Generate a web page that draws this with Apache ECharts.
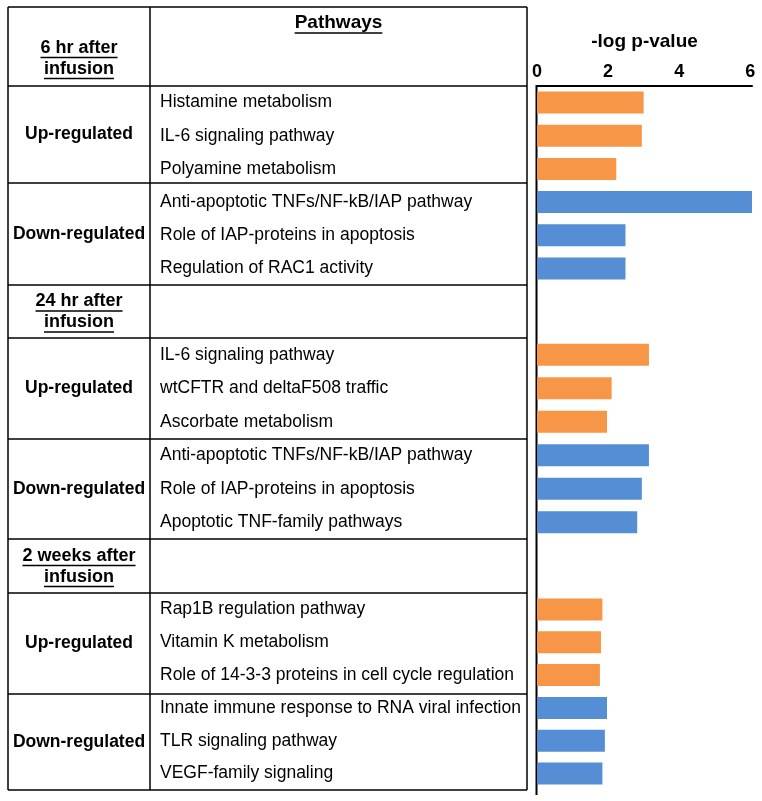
<!DOCTYPE html>
<html>
<head>
<meta charset="utf-8">
<script src="https://cdn.jsdelivr.net/npm/echarts@6/dist/echarts.min.js"></script>
<style>html,body{margin:0;padding:0;background:#fff}#c{width:762px;height:801px}</style>
</head>
<body>
<div id="c"></div>
<script>
// ---- data ----
const timeHeaders = [['6 hr after', 'infusion'], ['24 hr after', 'infusion'], ['2 weeks after', 'infusion']];
const directionLabels = ['Up-regulated', 'Down-regulated'];
const pathwaysTitle = 'Pathways';
const axisTitle = '-log p-value';
const axisTicks = [0, 2, 4, 6];

const up6hNames = ['Histamine metabolism', 'IL-6 signaling pathway', 'Polyamine metabolism'];
const up6hValues = [3.0, 2.95, 2.23];
const down6hNames = ['Anti-apoptotic TNFs/NF-kB/IAP pathway', 'Role of IAP-proteins in apoptosis', 'Regulation of RAC1 activity'];
const down6hValues = [6.05, 2.49, 2.49];

const up24hNames = ['IL-6 signaling pathway', 'wtCFTR and deltaF508 traffic', 'Ascorbate metabolism'];
const up24hValues = [3.15, 2.10, 1.97];
const down24hNames = ['Anti-apoptotic TNFs/NF-kB/IAP pathway', 'Role of IAP-proteins in apoptosis', 'Apoptotic TNF-family pathways'];
const down24hValues = [3.15, 2.95, 2.82];

const up2wNames = ['Rap1B regulation pathway', 'Vitamin K metabolism', 'Role of 14-3-3 proteins in cell cycle regulation'];
const up2wValues = [1.84, 1.80, 1.77];
const down2wNames = ['Innate immune response to RNA viral infection', 'TLR signaling pathway', 'VEGF-family signaling'];
const down2wValues = [1.97, 1.91, 1.84];

const blocks = [
  { upN: up6hNames, upV: up6hValues, dnN: down6hNames, dnV: down6hValues },
  { upN: up24hNames, upV: up24hValues, dnN: down24hNames, dnV: down24hValues },
  { upN: up2wNames, upV: up2wValues, dnN: down2wNames, dnV: down2wValues }
];

// ---- style / layout ----
const FONT = '"Liberation Sans", Arial, Helvetica, sans-serif';
const UP_COLOR = '#F79646';
const DOWN_COLOR = '#558ED5';
const L = 8, MID = 150, R = 527, AXX = 537, AXR = 752;
const TOP = 7;
const layout = [
  { hTop: 7, bTop: 86, mid: 183, bBot: 285 },
  { hTop: 285, bTop: 338, mid: 439, bBot: 539 },
  { hTop: 539, bTop: 593, mid: 694, bBot: 790 }
];

const cv = document.createElement('canvas').getContext('2d');
function tw(text, font) { cv.font = font; return cv.measureText(text).width; }

const graphic = [];
function line(x1, y1, x2, y2, w) {
  graphic.push({ type: 'line', silent: true, shape: { x1, y1, x2, y2 }, style: { stroke: '#000', lineWidth: w || 1.5 } });
}
function text(t, x, y, size) {
  graphic.push({ type: 'text', silent: true, x, y, style: { text: t, fontFamily: FONT, fontSize: size, fontWeight: 'bold', fill: '#000', align: 'center', verticalAlign: 'middle' } });
}
function underlined(t, cx, cy, size) {
  text(t, cx, cy, size);
  const w = tw(t, 'bold ' + size + 'px ' + FONT);
  const off = size * 0.5 + 0.5;
  line(cx - w / 2, cy + off, cx + w / 2, cy + off, 1.5);
}

// table frame
line(L, TOP, L, 790);
line(R, TOP, R, 790);
line(MID, TOP, MID, 790);
line(L, TOP, R, TOP);
layout.forEach((b, i) => {
  line(L, b.bTop, R, b.bTop);
  line(L, b.mid, R, b.mid);
  line(L, b.bBot, R, b.bBot);
  const hc = (L + MID) / 2;
  const hy = i === 0 ? 48 : (b.hTop + b.bTop) / 2 - 10;
  underlined(timeHeaders[i][0], hc, hy, 18);
  underlined(timeHeaders[i][1], hc, hy + 21, 18);
  text(directionLabels[0], hc, (b.bTop + b.mid) / 2, 17.5);
  text(directionLabels[1], hc, (b.mid + b.bBot) / 2, 17.5);
});
underlined(pathwaysTitle, (MID + R) / 2, 23, 19);
// value axis vertical line
line(AXX - 0.5, 85, AXX - 0.5, 795, 2);

const grids = [], xAxes = [], yAxes = [], series = [];
blocks.forEach((b, i) => {
  const lay = layout[i];
  grids.push({ left: AXX, top: lay.bTop, width: AXR - AXX, height: lay.bBot - lay.bTop, containLabel: false });
  xAxes.push({
    type: 'value', gridIndex: i, min: 0, max: 6.05, interval: 2,
    position: 'top', show: i === 0,
    name: i === 0 ? axisTitle : '', nameLocation: 'middle', nameGap: 35,
    nameTextStyle: { fontFamily: FONT, fontSize: 19, fontWeight: 'bold', color: '#000' },
    axisLine: { show: true, lineStyle: { color: '#000', width: 2 } },
    axisTick: { show: false },
    splitLine: { show: false },
    axisLabel: { margin: 5, fontFamily: FONT, fontSize: 18, fontWeight: 'bold', color: '#000',
      formatter: v => (axisTicks.indexOf(v) >= 0 ? String(v) : '') }
  });
  const names = b.upN.concat(b.dnN);
  const vals = b.upV.map(v => ({ value: v, itemStyle: { color: UP_COLOR } }))
    .concat(b.dnV.map(v => ({ value: v, itemStyle: { color: DOWN_COLOR } })));
  yAxes.push({
    type: 'category', gridIndex: i, data: names, inverse: true,
    axisLine: { show: false }, axisTick: { show: false },
    axisLabel: { interval: 0, align: 'left', margin: AXX - 160, fontFamily: FONT, fontSize: 17.5, color: '#000' }
  });
  series.push({ type: 'bar', xAxisIndex: i, yAxisIndex: i, data: vals, barWidth: 22, silent: true, animation: false });
});

const chart = echarts.init(document.getElementById('c'), null, { renderer: 'canvas' });
chart.setOption({
  animation: false,
  backgroundColor: '#fff',
  grid: grids, xAxis: xAxes, yAxis: yAxes, series: series,
  graphic: graphic
});
</script>
</body>
</html>
